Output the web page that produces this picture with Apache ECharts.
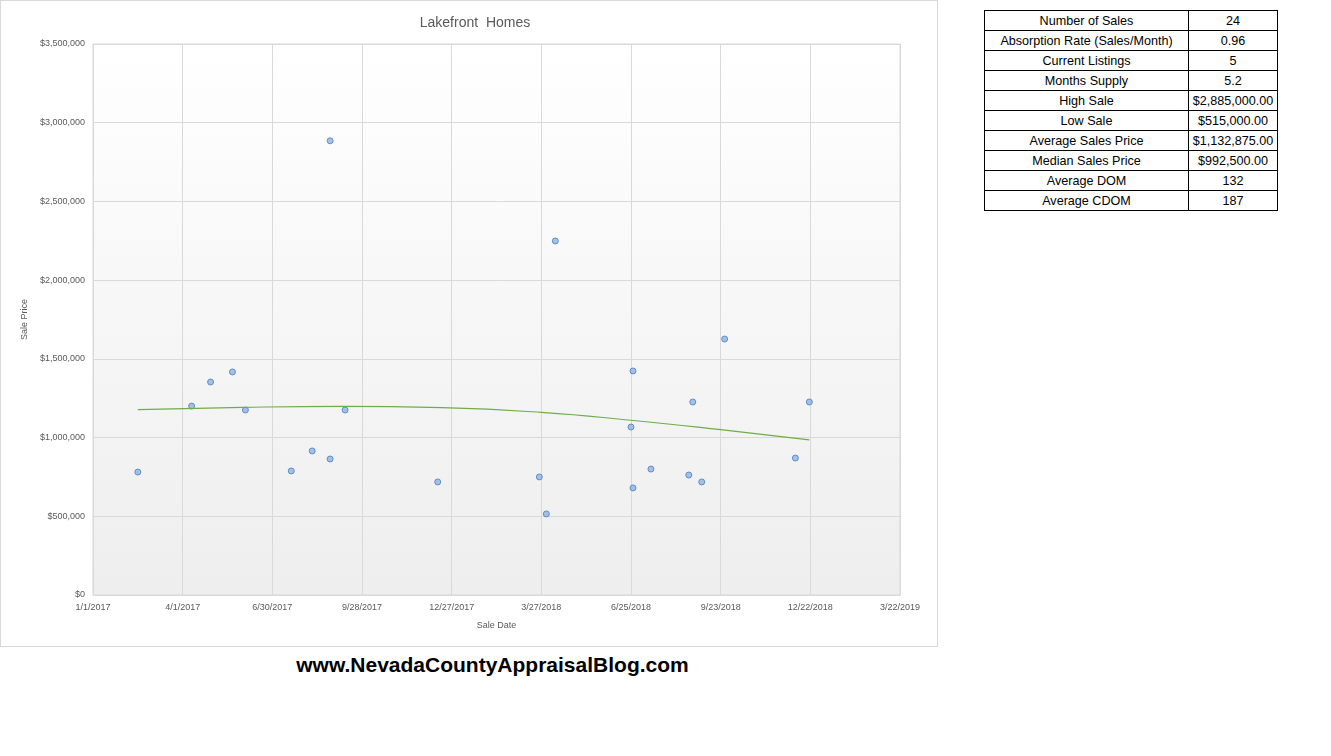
<!DOCTYPE html>
<html><head><meta charset="utf-8">
<script src="https://cdn.jsdelivr.net/npm/echarts@6/dist/echarts.min.js"></script>
<style>
body{margin:0;background:#fff;font-family:"Liberation Sans",Arial,sans-serif}
#box{position:absolute;left:0;top:0;width:936px;height:645px;border:1px solid #d9d9d9}
#c{position:absolute;left:0;top:0;width:937px;height:646px}
#foot{position:absolute;left:0;width:985px;top:653px;text-align:center;font-weight:bold;font-size:21px;color:#000}
table{position:absolute;left:984px;top:10px;border-collapse:collapse;font-size:12.6px;table-layout:fixed;width:293px}
td{border:1px solid #000;height:19px;padding:0 2px;text-align:center;white-space:nowrap;overflow:hidden}
</style></head><body>
<div id="box"></div><div id="c"></div>
<div id="foot">www.NevadaCountyAppraisalBlog.com</div>
<table id="t"></table>
<script>
// days since 1/1/2017
const saleDays = [45,99,118,140,153,199,220,238,238,253,346,448,455,464,540,542,542,560,598,602,611,634,705,719];
const salePrices = [781000,1200000,1353000,1417000,1175000,788000,915000,2885000,864000,1175000,718000,750000,515000,2249000,1067000,1423000,680000,800000,762000,1226000,718000,1626000,870000,1226000];
const trendDays = [45,150,250,350,450,540,630,719];
const trendPrices = [1178000,1192000,1198000,1190000,1160000,1110000,1050000,985000];
const statLabels = ["Number of Sales","Absorption Rate (Sales/Month)","Current Listings","Months Supply","High Sale","Low Sale","Average Sales Price","Median Sales Price","Average DOM","Average CDOM"];
const statValues = ["24","0.96","5","5.2","$2,885,000.00","$515,000.00","$1,132,875.00","$992,500.00","132","187"];

document.getElementById('t').innerHTML = statLabels.map((l,i)=>`<tr><td style="width:199px">${l}</td><td style="width:84px">${statValues[i]}</td></tr>`).join('');

const base = Date.UTC(2017,0,1);
function fmtDay(d){const dt=new Date(base+d*86400000);return (dt.getUTCMonth()+1)+'/'+dt.getUTCDate()+'/'+dt.getUTCFullYear();}
const ch = echarts.init(document.getElementById('c'));
ch.setOption({
  animation:false,
  title:{text:'Lakefront  Homes',left:470,top:11,textAlign:'center',textStyle:{fontSize:14,fontWeight:'normal',color:'#595959'}},
  grid:{left:93,right:37,top:44,bottom:51,show:true,borderColor:'#d9d9d9',borderWidth:1,
    backgroundColor:new echarts.graphic.LinearGradient(0,0,0,1,[{offset:0,color:'#ffffff'},{offset:1,color:'#eeeeee'}])},
  xAxis:{type:'value',min:0,max:810,interval:90,name:'Sale Date',nameLocation:'middle',nameGap:26,
    nameTextStyle:{fontSize:9,color:'#595959'},
    axisLabel:{formatter:fmtDay,fontSize:9,color:'#595959'},
    axisLine:{show:true,lineStyle:{color:'#d9d9d9'}},axisTick:{show:false},
    splitLine:{lineStyle:{color:'#d9d9d9'}}},
  yAxis:{type:'value',min:0,max:3500000,interval:500000,name:'Sale Price',nameLocation:'middle',nameGap:64,
    nameTextStyle:{fontSize:9,color:'#595959'},
    axisLabel:{formatter:v=>'$'+v.toLocaleString('en-US'),fontSize:9,color:'#595959'},
    axisLine:{show:false},axisTick:{show:false},splitLine:{lineStyle:{color:'#d9d9d9'}}},
  series:[
    {type:'scatter',data:saleDays.map((d,i)=>[d,salePrices[i]]),symbolSize:6,
     itemStyle:{color:'#8eb4e3',borderColor:'#4a7ebb',borderWidth:1}},
    {type:'line',data:trendDays.map((d,i)=>[d,trendPrices[i]]),smooth:true,showSymbol:false,
     lineStyle:{color:'#70ad47',width:1.2}}
  ]
});
</script></body></html>
